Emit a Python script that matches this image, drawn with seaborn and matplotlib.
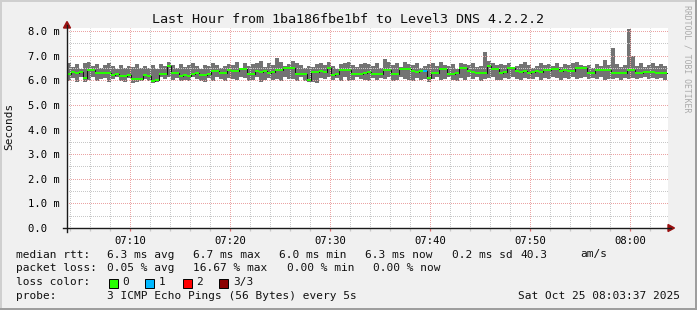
import numpy as np
import pandas as pd
import matplotlib
matplotlib.use("Agg")
import matplotlib.pyplot as plt
import seaborn as sns
from matplotlib.patches import Rectangle

# ---------------- data ----------------
title = "Last Hour from 1ba186fbe1bf to Level3 DNS 4.2.2.2"
start_min = 3.7      # minutes after 07:00 of the first sample
step_min = 0.4       # 24 s per sample

median_ms = [
    6.28, 6.36, 6.30, 6.36, 6.09, 6.43, 6.44, 6.32, 6.32, 6.29,
    6.30, 6.22, 6.24, 6.19, 6.18, 6.20, 6.05, 6.06, 6.04, 6.20,
    6.18, 5.97, 6.00, 6.27, 6.26, 6.58, 6.30, 6.31, 6.19, 6.20,
    6.18, 6.27, 6.32, 6.23, 6.22, 6.24, 6.40, 6.40, 6.30, 6.29,
    6.41, 6.40, 6.38, 6.46, 6.45, 6.27, 6.27, 6.37, 6.36, 6.37,
    6.32, 6.33, 6.42, 6.41, 6.50, 6.50, 6.49, 6.27, 6.28, 6.27,
    6.02, 6.35, 6.36, 6.37, 6.36, 6.50, 6.23, 6.24, 6.42, 6.41,
    6.42, 6.27, 6.28, 6.27, 6.32, 6.33, 6.27, 6.26, 6.27, 6.42,
    6.41, 6.27, 6.28, 6.46, 6.45, 6.46, 6.37, 6.36, 6.37, 6.37,
    6.09, 6.30, 6.31, 6.46, 6.45, 6.27, 6.28, 6.30, 6.50, 6.49,
    6.37, 6.36, 6.30, 6.31, 6.30, 6.59, 6.46, 6.45, 6.32, 6.33,
    6.50, 6.49, 6.37, 6.36, 6.37, 6.32, 6.33, 6.37, 6.36, 6.43,
    6.44, 6.46, 6.45, 6.40, 6.41, 6.40, 6.40, 6.50, 6.49, 6.50,
    6.32, 6.31, 6.43, 6.42, 6.43, 6.44, 6.30, 6.31, 6.30, 6.30,
    6.43, 6.42, 6.30, 6.31, 6.35, 6.36, 6.35, 6.30, 6.29, 6.30,
]
min_ms = [
    5.98, 6.08, 5.95, 6.12, 5.92, 6.02, 6.15, 5.96, 6.04, 6.10,
    5.94, 6.05, 6.12, 5.97, 5.93, 6.08, 5.90, 5.95, 5.99, 6.05,
    5.96, 5.90, 5.93, 6.12, 6.05, 6.15, 6.00, 6.10, 5.96, 6.02,
    5.98, 6.12, 6.06, 5.99, 5.94, 6.08, 5.97, 6.14, 6.05, 5.96,
    6.10, 6.04, 6.00, 6.15, 6.08, 5.98, 6.02, 6.12, 5.95, 6.03,
    6.10, 6.00, 6.06, 5.98, 6.14, 6.05, 6.07, 5.99, 6.12, 5.96,
    5.94, 5.93, 5.90, 6.10, 6.05, 6.12, 6.01, 6.08, 5.98, 6.12,
    5.96, 6.03, 6.15, 6.06, 6.00, 5.97, 6.11, 6.02, 6.08, 6.05,
    6.12, 5.99, 6.03, 6.14, 6.07, 6.02, 5.98, 6.10, 6.01, 6.06,
    5.95, 6.04, 6.12, 6.00, 6.06, 6.14, 6.01, 5.96, 6.08, 6.03,
    6.12, 6.04, 6.15, 5.98, 6.05, 6.08, 6.12, 6.02, 6.00, 6.10,
    6.06, 6.14, 6.05, 6.00, 6.10, 6.07, 6.04, 6.12, 6.02, 6.08,
    6.05, 6.14, 6.09, 6.03, 6.10, 6.06, 6.12, 6.04, 6.09, 6.15,
    6.04, 6.09, 6.06, 6.12, 6.03, 6.07, 6.05, 6.10, 6.02, 6.08,
    6.04, 6.10, 6.05, 6.08, 6.12, 6.07, 6.10, 6.05, 6.11, 6.03,
]
max_ms = [
    6.72, 6.55, 6.66, 6.48, 6.70, 6.75, 6.60, 6.68, 6.52, 6.64,
    6.70, 6.57, 6.46, 6.63, 6.52, 6.60, 6.56, 6.66, 6.50, 6.58,
    6.50, 6.62, 6.48, 6.68, 6.60, 6.75, 6.61, 6.50, 6.66, 6.55,
    6.63, 6.70, 6.58, 6.45, 6.64, 6.60, 6.72, 6.62, 6.50, 6.57,
    6.68, 6.64, 6.74, 6.52, 6.70, 6.59, 6.66, 6.72, 6.78, 6.55,
    6.70, 6.64, 6.92, 6.75, 6.60, 6.68, 6.80, 6.72, 6.62, 6.50,
    6.58, 6.55, 6.68, 6.72, 6.64, 6.75, 6.60, 6.48, 6.66, 6.70,
    6.73, 6.62, 6.55, 6.65, 6.70, 6.68, 6.60, 6.72, 6.52, 6.85,
    6.74, 6.62, 6.70, 6.55, 6.75, 6.66, 6.63, 6.72, 6.50, 6.60,
    6.65, 6.70, 6.58, 6.74, 6.62, 6.58, 6.66, 6.48, 6.72, 6.68,
    6.64, 6.70, 6.55, 6.60, 7.17, 6.80, 6.70, 6.62, 6.68, 6.62,
    6.72, 6.55, 6.60, 6.66, 6.74, 6.62, 6.50, 6.58, 6.70, 6.64,
    6.68, 6.60, 6.72, 6.55, 6.66, 6.62, 6.70, 6.74, 6.64, 6.58,
    6.62, 6.52, 6.66, 6.58, 6.84, 6.62, 7.31, 6.68, 6.55, 6.62,
    8.08, 7.00, 6.60, 6.70, 6.56, 6.64, 6.70, 6.60, 6.66, 6.58,
]
loss = [
    0, 0, 0, 0, 0, 0, 0, 0, 0, 0, 0, 0, 0, 0, 0, 0, 0, 0, 0, 0, 0, 0, 0, 0, 0,
    0, 0, 0, 0, 0, 0, 0, 0, 0, 0, 0, 0, 0, 0, 0, 0, 0, 0, 0, 0, 0, 0, 0, 0, 0,
    0, 0, 0, 0, 0, 0, 0, 0, 0, 0, 0, 0, 0, 0, 0, 0, 0, 0, 0, 0, 0, 0, 0, 0, 0,
    0, 0, 0, 0, 0, 0, 0, 0, 0, 0, 0, 0, 0, 0, 1, 0, 0, 0, 0, 0, 0, 0, 0, 0, 0,
    0, 0, 0, 0, 0, 0, 0, 0, 0, 0, 0, 0, 0, 0, 0, 0, 0, 0, 0, 0, 0, 0, 0, 0, 0,
    0, 0, 0, 0, 0, 0, 0, 0, 0, 0, 0, 0, 0, 0, 0, 0, 0, 0, 0, 0, 0, 0, 0, 0, 0,
]
loss_labels = ["0", "1", "2", "3/3"]
loss_colors = ["#26ff00", "#00b8ff", "#ff0000", "#8b0000"]

x_ticks = [10, 20, 30, 40, 50, 60]
x_labels = ["07:10", "07:20", "07:30", "07:40", "07:50", "08:00"]
y_ticks = [0, 1, 2, 3, 4, 5, 6, 7, 8]
y_labels = ["0.0  ", "1.0 m", "2.0 m", "3.0 m", "4.0 m", "5.0 m", "6.0 m", "7.0 m", "8.0 m"]

rtt_stats = ["median rtt:", "6.3 ms avg", "6.7 ms max", "6.0 ms min", "6.3 ms now", "0.2 ms sd", "40.3", "am/s"]
loss_stats = ["packet loss:", "0.05 % avg", "16.67 % max", "0.00 % min", "0.00 % now"]
probe_text = ["probe:", "3 ICMP Echo Pings (56 Bytes) every 5s"]
stamp = "Sat Oct 25 08:03:37 2025"

# ---------------- figure ----------------
W, H = 697, 310
fig = plt.figure(figsize=(W / 100, H / 100), dpi=100)
fig.patch.set_facecolor("#F0F0F0")
MONO = ["DejaVu Sans Mono"]


def fx(x):
    return x / W


def fy(y):
    return 1 - y / H


x0, x1, ytop, ybot = 67, 668, 28, 228
ax = fig.add_axes([fx(x0), fy(ybot), (x1 - x0) / W, (ybot - ytop) / H])
ax.set_facecolor("white")

n = len(median_ms)
t = [start_min + step_min * i for i in range(n)]
t_edges = t + [t[-1] + step_min]
df = pd.DataFrame({
    "t": t_edges,
    "median": median_ms + [median_ms[-1]],
    "lo": min_ms + [min_ms[-1]],
    "hi": max_ms + [max_ms[-1]],
})

# smoke
ax.fill_between(df["t"], df["lo"], df["hi"], step="post", color="#737373", lw=0, zorder=2)
# dark median connectors
sns.lineplot(data=df, x="t", y="median", drawstyle="steps-post", color="#141414",
             lw=0.75, ax=ax, zorder=3, legend=False)
# coloured median segments
seg_colors = [loss_colors[l] for l in loss]
ax.hlines(median_ms, t, [v + step_min for v in t], colors=seg_colors, lw=1.45, zorder=4)

ax.set_xlim(3.7, 63.8)
ax.set_ylim(0, 8.13)
ax.set_xlabel("")
ax.set_ylabel("")

# grid
ax.set_xticks(x_ticks)
ax.set_xticklabels(x_labels, fontfamily=MONO, fontsize=7.6)
ax.set_xticks(np.arange(4, 64, 2), minor=True)
ax.set_yticks(y_ticks)
ax.set_yticklabels(y_labels, fontfamily=MONO, fontsize=7.6)
ax.set_yticks(np.arange(0.5, 8.1, 1.0), minor=True)
ax.grid(which="major", color="#eba4a4", lw=0.72, ls=(0.5, (1, 1)), zorder=5)
ax.grid(which="minor", color="#c8c8c8", lw=0.72, ls=(0.5, (1, 1)), zorder=5)
ax.set_axisbelow(False)
ax.tick_params(axis="y", which="both", length=0, pad=5.0)
ax.tick_params(axis="x", which="major", length=2.2, width=0.9, color="#e07070",
               direction="out", pad=3.2)
ax.tick_params(axis="x", which="minor", length=2.2, width=0.9, color="#c8c8c8",
               direction="out")
for s in ax.spines.values():
    s.set_visible(False)

# axes lines and arrows (in pixel positions of the figure)
axis_col = "#1a1a1a"
fig.add_artist(plt.Line2D([fx(x0), fx(x0)], [fy(232), fy(25)], color=axis_col, lw=1.0))
fig.add_artist(plt.Line2D([fx(63), fx(671)], [fy(ybot), fy(ybot)], color=axis_col, lw=1.0))
arrow_col = "#9a1010"
fig.add_artist(plt.Polygon([[fx(63.5), fy(28)], [fx(70.5), fy(28)], [fx(67), fy(21.5)]],
                           closed=True, color=arrow_col, transform=fig.transFigure))
fig.add_artist(plt.Polygon([[fx(668), fy(ybot - 3.5)], [fx(668), fy(ybot + 3.5)], [fx(674.5), fy(ybot)]],
                           closed=True, color=arrow_col, transform=fig.transFigure))

# title, unit, watermark
fig.text(fx(348), fy(19.3), title, ha="center", va="center", fontfamily=MONO, fontsize=9.6, color="#111111")
fig.text(fx(9.5), fy(126.5), "Seconds", ha="center", va="center", rotation=90,
         fontfamily=MONO, fontsize=8, color="#111111")
fig.text(fx(687.5), fy(59), "RRDTOOL / TOBI OETIKER", ha="center", va="center", rotation=270,
         fontfamily=MONO, fontsize=5.9, color="#aaaaaa")

# legend lines
lfs = 8.0
txtc = "#111111"
row1 = [16, 107, 193, 279, 365, 452, 520, 580]
for s, xp in zip(rtt_stats, row1):
    fig.text(fx(xp), fy(254.5), s, ha="left", va="center", fontfamily=MONO, fontsize=lfs, color=txtc)
row2 = [16, 107, 193, 287, 373]
for s, xp in zip(loss_stats, row2):
    fig.text(fx(xp), fy(268.3), s, ha="left", va="center", fontfamily=MONO, fontsize=lfs, color=txtc)
fig.text(fx(16), fy(282.3), "loss color:", ha="left", va="center", fontfamily=MONO, fontsize=lfs, color=txtc)
box_x = [108.5, 145, 182.5, 219]
for lab, col, bx in zip(loss_labels, loss_colors, box_x):
    fig.add_artist(Rectangle((fx(bx), fy(287.5)), 9 / W, 9 / H, transform=fig.transFigure,
                             facecolor=col, edgecolor="black", lw=0.7))
    fig.text(fx(bx + 14), fy(282.3), lab, ha="left", va="center", fontfamily=MONO, fontsize=lfs, color=txtc)
fig.text(fx(16), fy(296), probe_text[0], ha="left", va="center", fontfamily=MONO, fontsize=lfs, color=txtc)
fig.text(fx(107), fy(296), probe_text[1], ha="left", va="center", fontfamily=MONO, fontsize=lfs, color=txtc)
fig.text(fx(680.5), fy(296), stamp, ha="right", va="center", fontfamily=MONO, fontsize=lfs, color=txtc)

# 3D frame
fig.add_artist(Rectangle((0, fy(2)), 1, 2 / H, transform=fig.transFigure, color="#CFCFCF", lw=0))
fig.add_artist(Rectangle((0, 0), 2 / W, 1, transform=fig.transFigure, color="#CFCFCF", lw=0))
fig.add_artist(Rectangle((0, 0), 1, 2 / H, transform=fig.transFigure, color="#9E9E9E", lw=0))
fig.add_artist(Rectangle((fx(695), 0), 2 / W, 1, transform=fig.transFigure, color="#9E9E9E", lw=0))

fig.savefig("out.png", dpi=100, facecolor=fig.get_facecolor())
